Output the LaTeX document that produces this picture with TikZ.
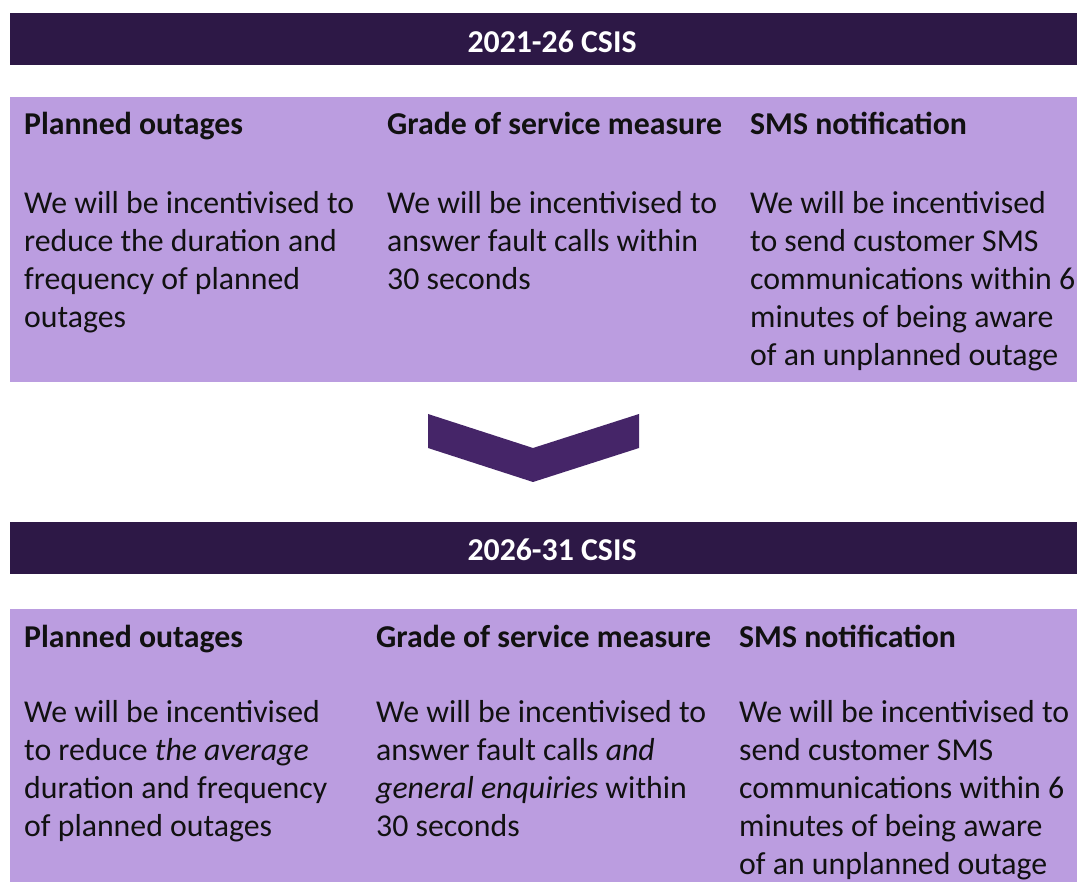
\documentclass[tikz,border=0pt]{standalone}
\usepackage{fontspec}
\setmainfont{Carlito}
\definecolor{banner}{HTML}{2D1846}
\definecolor{panel}{HTML}{BB9DE0}
\definecolor{chev}{HTML}{452568}
\definecolor{ink}{HTML}{111111}
\begin{document}
\begin{tikzpicture}[x=1pt,y=-1pt,
  bannerbox/.style={fill=banner,draw=none},
  panelbox/.style={fill=panel,draw=none},
  title/.style={text=white,font=\fontsize{31.8}{38}\selectfont\bfseries,inner sep=0},
  head/.style={text=ink,font=\fontsize{31.8}{38}\selectfont\bfseries,inner sep=0,anchor=base west},
  body/.style={text=ink,font=\fontsize{31.8}{38}\selectfont,inner sep=0,anchor=base west,align=left}]
\useasboundingbox[fill=white] (0,0) rectangle (1077,882);
% top section
\fill[bannerbox] (10,13) rectangle (1077,65);
\node[title] (t1) at (552,42) {2021-26 CSIS};
\fill[panelbox] (10,97) rectangle (1077,382);
\node[head] (h11) at (24,135) {Planned outages};
\node[head] (h12) at (387,135) {Grade of service measure};
\node[head] (h13) at (750,135) {SMS notification};
% body nodes: anchor = baseline of the last line
\node[body] (b11) at (24,328) {We will be incentivised to\\reduce the duration and\\frequency of planned\\outages};
\node[body] (b12) at (387,290) {We will be incentivised to\\answer fault calls within\\30 seconds};
\node[body] (b13) at (750,366) {We will be incentivised\\to send customer SMS\\communications within 6\\minutes of being aware\\of an unplanned outage};
% chevron
\fill[chev] (428,414) -- (533,448) -- (639,414) -- (639,448) -- (533,482) -- (428,448) -- cycle;
% bottom section
\fill[bannerbox] (10,522) rectangle (1077,574);
\node[title] (t2) at (552,550) {2026-31 CSIS};
\fill[panelbox] (10,609) rectangle (1077,882);
\node[head] (h21) at (24,647) {Planned outages};
\node[head] (h22) at (376,647) {Grade of service measure};
\node[head] (h23) at (739,647) {SMS notification};
\node[body] (b21) at (24,836) {We will be incentivised\\to reduce \textit{the average}\\duration and frequency\\of planned outages};
\node[body] (b22) at (376,836) {We will be incentivised to\\answer fault calls \textit{and}\\\textit{general enquiries} within\\30 seconds};
\node[body] (b23) at (739,874) {We will be incentivised to\\send customer SMS\\communications within 6\\minutes of being aware\\of an unplanned outage};
\end{tikzpicture}
\end{document}
